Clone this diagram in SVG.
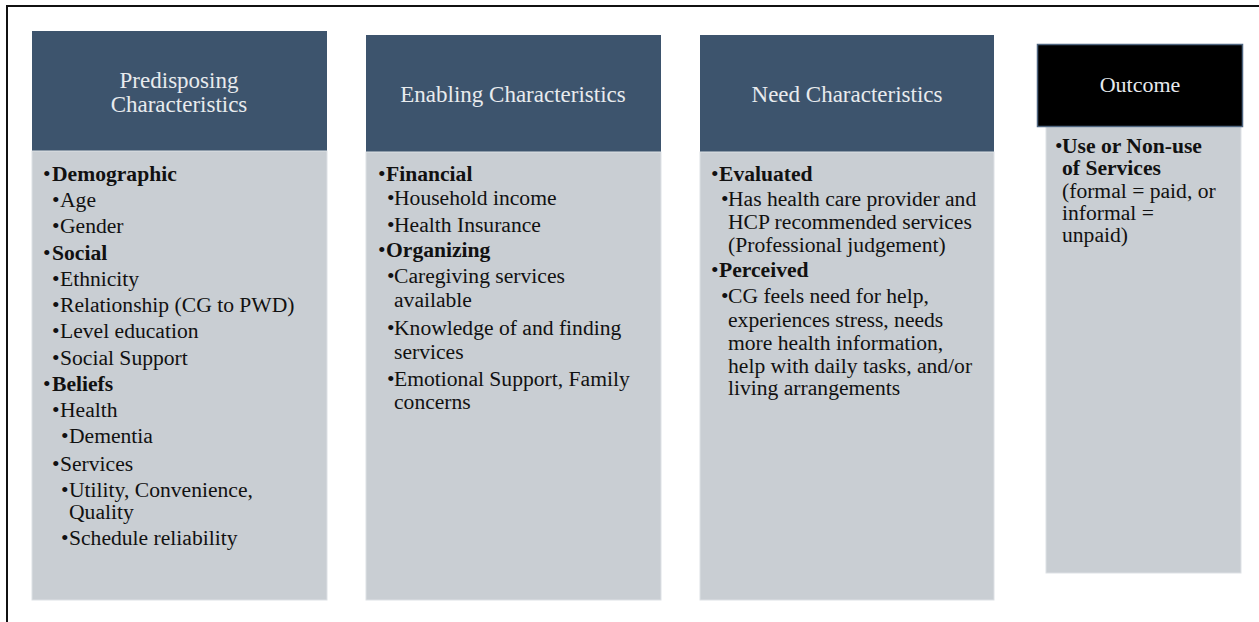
<svg xmlns="http://www.w3.org/2000/svg" width="1259" height="622" viewBox="0 0 1259 622">
<style>
.hdr{fill:#3d546d;}
.body{fill:#c9ced3;stroke:#dde1e5;stroke-width:1;}
.ht{font-family:"Liberation Serif","Times New Roman",serif;font-size:23px;fill:#e8ebee;text-anchor:middle;}
.t{font-family:"Liberation Serif","Times New Roman",serif;font-size:21.6px;fill:#111;}
.b{font-weight:bold;}
</style>
<rect x="0" y="0" width="1259" height="622" fill="#ffffff"/>
<path d="M7,623 V6 H1260" fill="none" stroke="#111" stroke-width="2"/>
<g id="connectors"/>
<g id="predisposing">
<rect class="hdr" x="32" y="31" width="295" height="120"/>
<rect class="body" x="32" y="151" width="295" height="449"/>
<text class="ht" x="179" y="88">Predisposing</text>
<text class="ht" x="179" y="112">Characteristics</text>
<text class="t" x="43" y="181">•</text><text class="t b" x="52" y="181">Demographic</text>
<text class="t" x="52" y="207">•</text><text class="t" x="60" y="207">Age</text>
<text class="t" x="52" y="233">•</text><text class="t" x="60" y="233">Gender</text>
<text class="t" x="43" y="260">•</text><text class="t b" x="52" y="260">Social</text>
<text class="t" x="52" y="286">•</text><text class="t" x="60" y="286">Ethnicity</text>
<text class="t" x="52" y="312">•</text><text class="t" x="60" y="312">Relationship (CG to PWD)</text>
<text class="t" x="52" y="338">•</text><text class="t" x="60" y="338">Level education</text>
<text class="t" x="52" y="365">•</text><text class="t" x="60" y="365">Social Support</text>
<text class="t" x="43" y="391">•</text><text class="t b" x="52" y="391">Beliefs</text>
<text class="t" x="52" y="417">•</text><text class="t" x="60" y="417">Health</text>
<text class="t" x="61" y="443">•</text><text class="t" x="69" y="443">Dementia</text>
<text class="t" x="52" y="471">•</text><text class="t" x="60" y="471">Services</text>
<text class="t" x="61" y="497">•</text><text class="t" x="69" y="497">Utility,  Convenience,</text>
<text class="t" x="69" y="519">Quality</text>
<text class="t" x="61" y="545">•</text><text class="t" x="69" y="545">Schedule reliability</text>
</g>
<g id="enabling">
<rect class="hdr" x="366" y="35" width="295" height="117"/>
<rect class="body" x="366" y="152" width="295" height="448"/>
<text class="ht" x="513" y="102">Enabling  Characteristics</text>
<text class="t" x="378" y="181">•</text><text class="t b" x="386" y="181">Financial</text>
<text class="t" x="387" y="205">•</text><text class="t" x="394" y="205">Household income</text>
<text class="t" x="387" y="232">•</text><text class="t" x="394" y="232">Health  Insurance</text>
<text class="t" x="378" y="257">•</text><text class="t b" x="386" y="257">Organizing</text>
<text class="t" x="387" y="283">•</text><text class="t" x="394" y="283">Caregiving services</text>
<text class="t" x="394" y="307">available</text>
<text class="t" x="387" y="335">•</text><text class="t" x="394" y="335">Knowledge of and finding</text>
<text class="t" x="394" y="359">services</text>
<text class="t" x="387" y="386">•</text><text class="t" x="394" y="386">Emotional Support, Family</text>
<text class="t" x="394" y="409">concerns</text>
</g>
<g id="need">
<rect class="hdr" x="700" y="35" width="294" height="117"/>
<rect class="body" x="700" y="152" width="294" height="448"/>
<text class="ht" x="847" y="102">Need Characteristics</text>
<text class="t" x="711" y="181">•</text><text class="t b" x="719" y="181">Evaluated</text>
<text class="t" x="721" y="206">•</text><text class="t" x="728" y="206">Has health care provider and</text>
<text class="t" x="728" y="229">HCP recommended services</text>
<text class="t" x="728" y="252">(Professional judgement)</text>
<text class="t" x="711" y="277">•</text><text class="t b" x="719" y="277">Perceived</text>
<text class="t" x="721" y="303">•</text><text class="t" x="728" y="303">CG feels need for help,</text>
<text class="t" x="728" y="327">experiences stress, needs</text>
<text class="t" x="728" y="350">more health information,</text>
<text class="t" x="728" y="373">help with daily tasks, and/or</text>
<text class="t" x="728" y="395">living arrangements</text>
</g>
<g id="outcome">
<rect class="body" x="1046" y="127" width="195" height="446"/>
<rect x="1037.5" y="44.5" width="205" height="82" fill="#000" stroke="#4f6680" stroke-width="1.5"/>
<text class="ht" x="1140" y="92" style="font-size:22px">Outcome</text>
<text class="t" x="1055" y="153">•</text><text class="t b" x="1062" y="153">Use or Non-use</text>
<text class="t b" x="1062" y="175">of Services</text>
<text class="t" x="1062" y="198">(formal = paid, or</text>
<text class="t" x="1062" y="220">informal =</text>
<text class="t" x="1062" y="242">unpaid)</text>
</g>
</svg>
